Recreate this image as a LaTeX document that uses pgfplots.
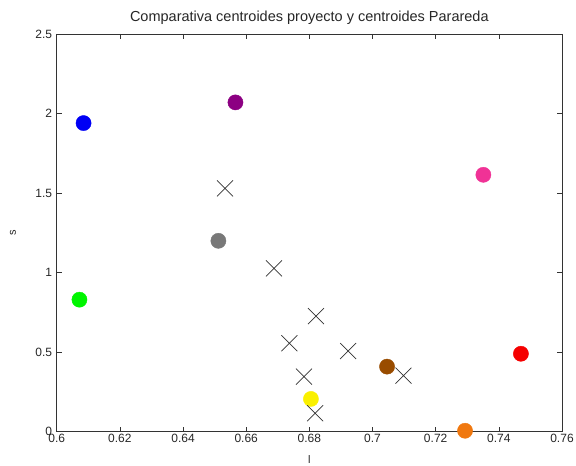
\documentclass[border=0pt]{standalone}
\usepackage{fontspec}
\setmainfont{Liberation Sans}
\usepackage{pgfplots}
\pgfplotsset{compat=1.18}
\definecolor{cblue}{RGB}{0,0,245}
\definecolor{cpurple}{RGB}{140,0,130}
\definecolor{cgreen}{RGB}{0,245,0}
\definecolor{cgray}{RGB}{120,120,120}
\definecolor{cpink}{RGB}{240,50,150}
\definecolor{cyellow}{RGB}{250,240,0}
\definecolor{cbrown}{RGB}{153,76,0}
\definecolor{corange}{RGB}{240,120,15}
\definecolor{cred}{RGB}{245,0,0}
\begin{document}
\begin{tikzpicture}
\useasboundingbox (-56.7pt,-34.3pt) rectangle (519.3pt,431.7pt);
\begin{axis}[
  at={(0pt,0pt)}, anchor=south west,
  scale only axis, width=505.3pt, height=397.7pt,
  xmin=0.6, xmax=0.76, ymin=0, ymax=2.5,
  xtick={0.6,0.62,0.64,0.66,0.68,0.7,0.72,0.74,0.76},
  ytick={0,0.5,1,1.5,2,2.5},
  xtick pos=both, ytick pos=both,
  tick align=inside,
  major tick length=5pt,
  tick style={black!80, line width=0.6pt},
  axis line style={black!80, line width=0.6pt},
  /pgf/number format/assume math mode=true,
  /pgf/number format/fixed,
  scaled ticks=false,
  tick label style={font=\fontsize{12}{14}\selectfont, text=black!85},
  xticklabel style={yshift=1pt},
  yticklabel style={xshift=-1pt},
  title={Comparativa centroides proyecto y centroides Parareda},
  title style={at={(0.5,1)}, anchor=base, yshift=6pt, font=\fontsize{14.5}{16}\selectfont, text=black!85},
  xlabel={l}, ylabel={s},
  xlabel style={at={(axis description cs:0.5,0)}, anchor=north, yshift=-20pt, font=\fontsize{11}{13}\selectfont, text=black!85},
  ylabel style={at={(axis description cs:-0.0865,0.5)}, anchor=center, font=\fontsize{11}{13}\selectfont, text=black!85},
  clip=false,
]
\addplot[only marks, mark=*, mark size=7.6pt, color=cblue] coordinates {(0.6085,1.94)};
\addplot[only marks, mark=*, mark size=7.6pt, color=cpurple] coordinates {(0.6566,2.07)};
\addplot[only marks, mark=*, mark size=7.6pt, color=cgreen] coordinates {(0.6072,0.83)};
\addplot[only marks, mark=*, mark size=7.6pt, color=cgray] coordinates {(0.6512,1.20)};
\addplot[only marks, mark=*, mark size=7.6pt, color=cpink] coordinates {(0.7351,1.615)};
\addplot[only marks, mark=*, mark size=7.6pt, color=cyellow] coordinates {(0.6805,0.206)};
\addplot[only marks, mark=*, mark size=7.6pt, color=cbrown] coordinates {(0.7046,0.409)};
\addplot[only marks, mark=*, mark size=7.6pt, color=corange] coordinates {(0.7293,0.006)};
\addplot[only marks, mark=*, mark size=7.6pt, color=cred] coordinates {(0.7470,0.490)};
\addplot[only marks, mark=x, mark size=11.3pt, color=black!80, mark options={line width=0.7pt}] coordinates {
  (0.6533,1.530)
  (0.6688,1.027)
  (0.6821,0.727)
  (0.6737,0.556)
  (0.6923,0.507)
  (0.7098,0.352)
  (0.6783,0.346)
  (0.6818,0.116)
};
\end{axis}
\end{tikzpicture}
\end{document}
